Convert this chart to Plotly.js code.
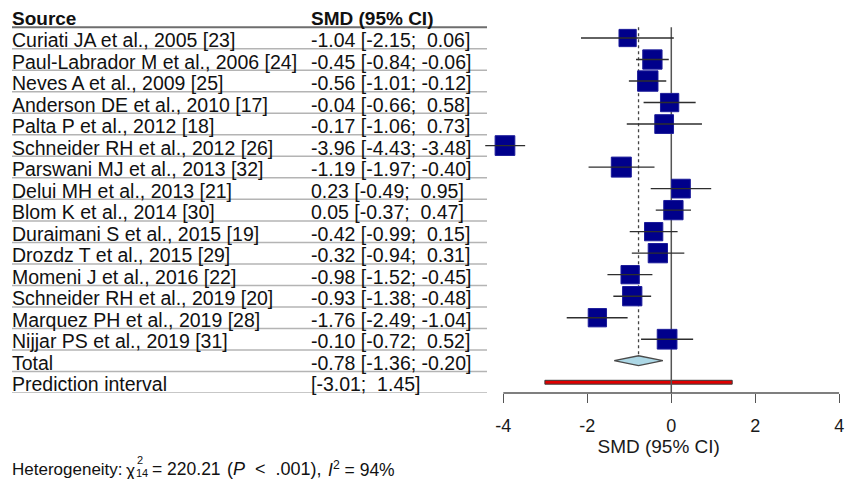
<!DOCTYPE html>
<html>
<head>
<meta charset="utf-8">
<script src="https://cdn.plot.ly/plotly-3.0.1.min.js"></script>
<style>
  html, body { margin: 0; padding: 0; background: #ffffff; }
  #chart { width: 846px; height: 479px; }
</style>
</head>
<body>
<div id="chart"></div>
<script>
// ---------------- data ----------------
const studies = [
  "Curiati JA et al., 2005 [23]",
  "Paul-Labrador M et al., 2006 [24]",
  "Neves A et al., 2009 [25]",
  "Anderson DE et al., 2010 [17]",
  "Palta P et al., 2012 [18]",
  "Schneider RH et al., 2012 [26]",
  "Parswani MJ et al., 2013 [32]",
  "Delui MH et al., 2013 [21]",
  "Blom K et al., 2014 [30]",
  "Duraimani S et al., 2015 [19]",
  "Drozdz T et al., 2015 [29]",
  "Momeni J et al., 2016 [22]",
  "Schneider RH et al., 2019 [20]",
  "Marquez PH et al., 2019 [28]",
  "Nijjar PS et al., 2019 [31]"
];
const smd     = [-1.04, -0.45, -0.56, -0.04, -0.17, -3.96, -1.19, 0.23, 0.05, -0.42, -0.32, -0.98, -0.93, -1.76, -0.10];
const ciLower = [-2.15, -0.84, -1.01, -0.66, -1.06, -4.43, -1.97, -0.49, -0.37, -0.99, -0.94, -1.52, -1.38, -2.49, -0.72];
const ciUpper = [ 0.06, -0.06, -0.12,  0.58,  0.73, -3.48, -0.40, 0.95, 0.47,  0.15,  0.31, -0.45, -0.48, -1.04,  0.52];
// relative study weights (%) estimated from square areas
const weights = [5.5, 6.9, 7.7, 6.2, 6.5, 7.2, 7.4, 6.5, 6.9, 6.2, 6.9, 6.2, 6.9, 6.2, 7.2];

const totalLabel = "Total";
const totalSMD = -0.78;
const totalCI = [-1.36, -0.20];
const predictionLabel = "Prediction interval";
const predictionCI = [-3.01, 1.45];

const headerSource = "Source";
const headerSMD = "SMD (95% CI)";
const axisTitle = "SMD (95% CI)";
const tickValues = [-4, -2, 0, 2, 4];
const tickLabels = ["-4", "-2", "0", "2", "4"];

const hetChi2 = "220.21";
const hetDf = "14";
const hetP = ".001";
const hetI2 = "94%";

// ---------------- helpers ----------------
const W = 846, H = 479;
const FONT = "Liberation Sans, Arial, Helvetica, sans-serif";
const NB = "\u00a0";
const px = v => v / W;             // pixel x -> paper x
const py = v => 1 - v / H;         // pixel y -> paper y
const f2 = v => v.toFixed(2);
const ciText = (e, lo, hi) =>
  f2(e) + NB + "[" + f2(lo) + ";" + NB + (hi >= 0 ? NB : "") + f2(hi) + "]";

const nStudies = studies.length;
const rowTotal = nStudies;
const rowPred = nStudies + 1;
const studyRows = studies.map((_, i) => i);

// ---------------- traces ----------------
const traces = [];

// prediction interval bar
const pH = 0.09;
traces.push({
  type: "scatter", mode: "lines",
  x: [predictionCI[0], predictionCI[1], predictionCI[1], predictionCI[0], predictionCI[0]],
  y: [rowPred - pH, rowPred - pH, rowPred + pH, rowPred + pH, rowPred - pH],
  fill: "toself", fillcolor: "#e00000",
  line: { color: "#3a3a3a", width: 1 },
  hoverinfo: "skip", showlegend: false
});

// vertical reference line at 0
traces.push({
  type: "scatter", mode: "lines",
  x: [0, 0], y: [-0.5, rowPred + 0.5],
  line: { color: "#555555", width: 1.5 },
  hoverinfo: "skip", showlegend: false
});

// pooled estimate dotted line
const dH = 0.23;
traces.push({
  type: "scatter", mode: "lines",
  x: [totalSMD, totalSMD], y: [-0.5, rowTotal - dH],
  line: { color: "#444444", width: 1.3, dash: "dot" },
  hoverinfo: "skip", showlegend: false
});

// pooled diamond
traces.push({
  type: "scatter", mode: "lines",
  x: [totalCI[0], totalSMD, totalCI[1], totalSMD, totalCI[0]],
  y: [rowTotal, rowTotal - dH, rowTotal, rowTotal + dH, rowTotal],
  fill: "toself", fillcolor: "#add8e6",
  line: { color: "#4a4a4a", width: 1.3 },
  hoverinfo: "skip", showlegend: false
});

// study squares
traces.push({
  type: "scatter", mode: "markers",
  x: smd, y: studyRows,
  marker: {
    symbol: "square",
    size: weights.map(w => 7.35 * Math.sqrt(w)),
    color: "#00008b",
    opacity: 1,
    line: { color: "#1c1c9a", width: 1 }
  },
  cliponaxis: false,
  hoverinfo: "skip", showlegend: false
});

// confidence interval lines
const ciX = [], ciY = [];
studyRows.forEach(i => { ciX.push(ciLower[i], ciUpper[i], null); ciY.push(i, i, null); });
traces.push({
  type: "scatter", mode: "lines",
  x: ciX, y: ciY,
  line: { color: "#2e2e2e", width: 1.4 },
  hoverinfo: "skip", showlegend: false
});

// ---------------- table text ----------------
const annotations = [];
const rowFont = { family: FONT, size: 19.5, color: "#111111" };
const headFont = { family: FONT, size: 19, color: "#111111", weight: "bold" };
const colSourceX = px(10);
const colSMDX = px(309);

function addText(text, x, row, font, yshift) {
  annotations.push({
    text: text, x: x, y: row, xref: "paper", yref: "y",
    xanchor: "left", yanchor: "middle", showarrow: false,
    font: font, yshift: yshift
  });
}
addText("<b>" + headerSource + "</b>", colSourceX, -1, headFont, -2);
addText("<b>" + headerSMD + "</b>", colSMDX, -1, headFont, -2);
studies.forEach((s, i) => {
  addText(s, colSourceX, i, rowFont, -2);
  addText(ciText(smd[i], ciLower[i], ciUpper[i]), colSMDX, i, rowFont, -2);
});
addText(totalLabel, colSourceX, rowTotal, rowFont, -2);
addText(ciText(totalSMD, totalCI[0], totalCI[1]), colSMDX, rowTotal, rowFont, -2);
addText(predictionLabel, colSourceX, rowPred, rowFont, -2);
addText("[" + f2(predictionCI[0]) + ";" + NB + NB + f2(predictionCI[1]) + "]", colSMDX, rowPred, rowFont, -2);

// heterogeneity line
const hetFont = { family: FONT, size: 17.5, color: "#111111" };
const hetFontB = { family: FONT, size: 18, color: "#111111" };
const smallFont = { family: FONT, size: 11, color: "#111111" };
function addPaperText(text, xPix, yPix, font) {
  annotations.push({
    text: text, x: px(xPix), y: py(yPix), xref: "paper", yref: "paper",
    xanchor: "left", yanchor: "middle", showarrow: false, font: font,
    borderpad: 0
  });
}
addPaperText("Heterogeneity:", 11, 469, { family: FONT, size: 17, color: "#111111" });
addPaperText("χ", 125, 471, hetFont);
addPaperText("2", 136, 460, smallFont);
addPaperText(hetDf, 135, 472.5, smallFont);
addPaperText("= " + hetChi2, 151, 469, hetFont);
addPaperText("(<i>P</i>" + NB + NB + "&lt;" + NB + NB + hetP + "),", 226, 469, hetFontB);
addPaperText("<i>I</i><sup>2</sup> = " + hetI2, 327, 469, hetFont);

// ---------------- table rule lines ----------------
const shapes = [];
for (let k = -1; k <= rowPred; k++) {
  shapes.push({
    type: "line", xref: "paper", yref: "y",
    x0: px(12), x1: px(487), y0: k + 0.5, y1: k + 0.5,
    line: { color: k === -1 ? "#6e6e6e" : "#b4b4b4", width: k === -1 ? 2 : 1.5 },
    layer: "below"
  });
}
// x axis baseline from -4 to 4
shapes.push({
  type: "line", xref: "x", yref: "paper",
  x0: tickValues[0], x1: tickValues[tickValues.length - 1],
  y0: py(393), y1: py(393),
  line: { color: "#555555", width: 1.5 }
});

// ---------------- layout ----------------
const xMin = -4.6, xMax = 4.0;
const xLeftPix = 671.3 + xMin * 42, xRightPix = 671.3 + xMax * 42;
const yTopRow = -38 / 21.51;

const layout = {
  width: W, height: H,
  margin: { l: 0, r: 0, t: 0, b: 0 },
  paper_bgcolor: "#ffffff", plot_bgcolor: "rgba(0,0,0,0)",
  showlegend: false, hovermode: false,
  xaxis: {
    domain: [px(xLeftPix), px(xRightPix)],
    range: [xMin, xMax], autorange: false,
    showgrid: false, zeroline: false, showline: false,
    ticks: "outside", ticklen: 9, tickwidth: 1.5, tickcolor: "#555555",
    tickvals: tickValues, ticktext: tickLabels,
    tickfont: { family: FONT, size: 18, color: "#1a1a1a" },
    ticklabelstandoff: 7,
    title: { text: axisTitle, font: { family: FONT, size: 19, color: "#1a1a1a" }, standoff: 2 },
    fixedrange: true
  },
  yaxis: {
    domain: [1 - 393 / H, 1],
    range: [rowPred + 0.5, yTopRow], autorange: false,
    showgrid: false, zeroline: false, showline: false,
    showticklabels: false, ticks: "",
    fixedrange: true
  },
  annotations: annotations,
  shapes: shapes
};

Plotly.newPlot("chart", traces, layout, { displayModeBar: false, staticPlot: true });
</script>
</body>
</html>
